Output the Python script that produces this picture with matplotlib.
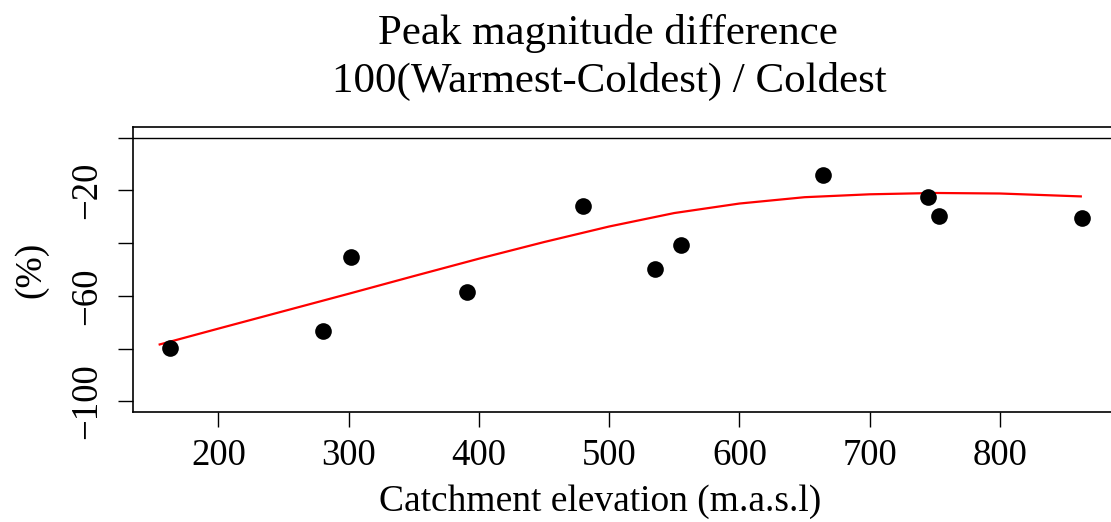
import numpy as np
import matplotlib
matplotlib.use("Agg")
import matplotlib.pyplot as plt

plt.rcParams['font.family'] = ['Liberation Serif', 'DejaVu Serif']

# catchment elevation (m.a.s.l) and peak magnitude difference (%)
elev = [163, 280, 302, 391, 480, 535, 555, 664, 745, 753, 863]
diff = [-79.7, -73.4, -45.4, -58.5, -26.1, -49.7, -40.6, -14.1, -22.6, -29.9, -30.5]

# smooth fit
fit_x = [155, 200, 250, 300, 350, 400, 450, 500, 550, 600, 650, 700, 750, 800, 862]
fit_y = [-78.4, -72.4, -65.8, -59.2, -52.5, -45.9, -39.6, -33.7, -28.6, -25.0,
         -22.6, -21.5, -21.0, -21.2, -22.3]

yticks = [0, -20, -40, -60, -80, -100]
ylabels = ['', '\u221220', '', '\u221260', '', '\u2212100']
xticks = [200, 300, 400, 500, 600, 700, 800]

fig = plt.figure(figsize=(11.11, 5.22), dpi=100)
ax = fig.add_axes([0.1197, 0.2107, 0.8883, 0.546])

ax.axhline(0, color='black', lw=1.0)
ax.plot(fit_x, fit_y, color='red', lw=1.6)
ax.plot(elev, diff, 'o', color='black', ms=12, mew=0)

ax.set_xlim(134.5, 892)
ax.set_ylim(-104, 4)
ax.set_xticks(xticks)
ax.set_xticklabels([str(v) for v in xticks])
ax.set_yticks(yticks)
ax.set_yticklabels(ylabels, rotation=90, va='center')

for s in ax.spines.values():
    s.set_linewidth(1.2)
ax.tick_params(direction='out', length=11, width=1.0, labelsize=26.5)
ax.tick_params(axis='x', pad=8)
ax.tick_params(axis='y', pad=10)

ax.set_ylabel('(%)', fontsize=27, labelpad=15)
fig.text(0.540, 0.038, 'Catchment elevation (m.a.s.l)', fontsize=27, ha='center', va='center')
fig.text(0.547, 0.935, 'Peak magnitude difference', fontsize=31, ha='center', va='center')
fig.text(0.548, 0.844, '100(Warmest-Coldest) / Coldest', fontsize=31, ha='center', va='center')

fig.savefig('out.png', dpi=100)
